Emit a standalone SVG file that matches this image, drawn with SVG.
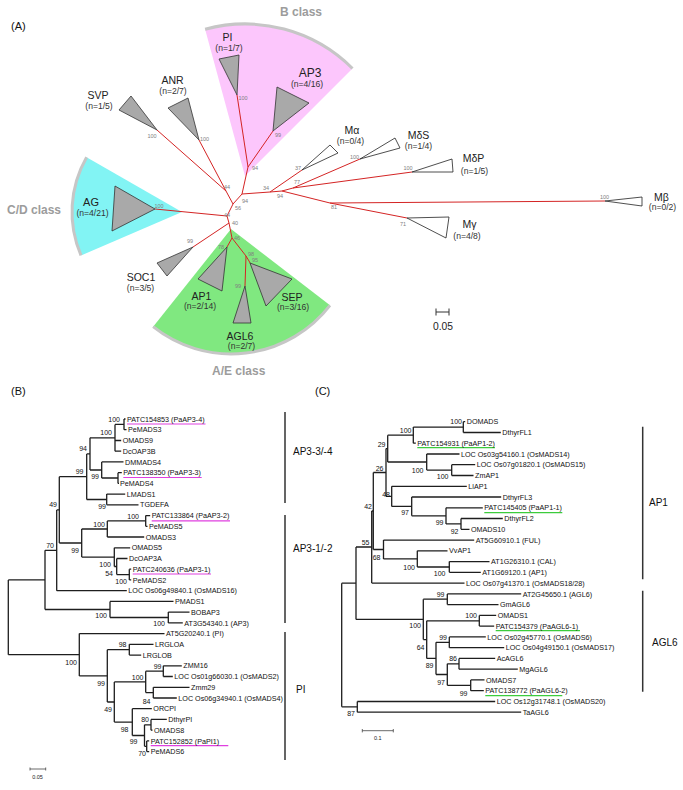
<svg xmlns="http://www.w3.org/2000/svg" width="683" height="790" viewBox="0 0 683 790">
<style>
text{font-family:"Liberation Sans",Arial,sans-serif}
.r{stroke:#d42424;stroke-width:1;fill:none}
.tg{fill:#a9a9a9;stroke:#333;stroke-width:0.8}
.tw{fill:#fff;stroke:#222;stroke-width:0.8}
.ab{font-size:5.5px;fill:#808080;text-anchor:middle}
.nm{font-size:10.5px;fill:#222;text-anchor:middle}
.nn{font-size:8.6px;fill:#333;text-anchor:middle}
.cls{font-size:12px;font-weight:bold;fill:#9c9c9c}
.pl{font-size:11px;fill:#111}
.br{stroke:#1e1e1e;stroke-width:1.3;fill:none}
.t{font-size:7.2px;fill:#111}
.b{font-size:7px;fill:#111;text-anchor:end}
.cl{font-size:10px;fill:#111}
.bar{stroke:#333;stroke-width:1.5}
.um{stroke:#e040e0;stroke-width:1.2}
.ug{stroke:#3ccc3c;stroke-width:1.2}
.arc{fill:none;stroke:#c6c6c6;stroke-width:3}
</style>

<g id="panelA">
<text class="pl" x="11" y="30">(A)</text>
<g id="sectors">
<path d="M245,176 L205.1,29.3 A152,152 0 0,1 352.5,68.5 Z" fill="#fcc6fc"/>
<path class="arc" d="M205.1,29.3 A152,152 0 0,1 352.5,68.5"/>
<path d="M182,212 L86.6,157.2 A110,110 0 0,0 81,255.4 Z" fill="#82f4f4"/>
<path class="arc" d="M86.6,157.2 A110,110 0 0,0 81,255.4"/>
<path d="M231,229 L153.1,326.7 A125,125 0 0,0 330,305.3 Z" fill="#80e880"/>
<path class="arc" d="M153.1,326.7 A125,125 0 0,0 330,305.3"/>
</g>
<text class="cls" x="280" y="15.5">B class</text>
<text class="cls" x="7" y="214">C/D class</text>
<text class="cls" x="212" y="374.5">A/E class</text>

<g id="connectorsA">
<path class="r" d="M157,130 L226,191 M199,140 L226,191 L233,204 L242,194 L248,167 L237,95 M248,167 L273,131 M242,194 L270,192 L302,170 M270,192 L282,191 L293,188 L360,159 M293,188 L412,172 M282,191 L330,203 L605,201 M330,203 L407,218 M233,204 L227,216 L155,209 M227,216 L229,223 L193,247 M229,223 L232,238 L227,247 M232,238 L246,256 L245,286 M246,256 L249,261 L250,263"/>
</g>

<g id="SVP"><path class="tg" d="M157,130 L119,110 L131,96 Z"/><text class="nm" x="98" y="99">SVP</text><text class="nn" x="99" y="109.2">(n=1/5)</text></g>
<g id="ANR"><path class="tg" d="M199,140 L168,108 L188,98 Z"/><text class="nm" x="172.5" y="83.8">ANR</text><text class="nn" x="173" y="94.2">(n=2/7)</text></g>
<g id="PI"><path class="tg" d="M237,95 L219,59 L239,55 Z"/><text class="nm" x="227.5" y="40.8">PI</text><text class="nn" x="229" y="51.2">(n=1/7)</text></g>
<g id="AP3"><path class="tg" d="M273,131 L277,87 L309,103 Z"/><text class="nm" x="310" y="77.3" style="font-size:12px">AP3</text><text class="nn" x="307" y="87.2">(n=4/16)</text></g>
<g id="Ma"><path class="tw" d="M302,170 L330,145 L338,153 Z"/><text class="nm" x="352" y="133.7">Mα</text><text class="nn" x="350.5" y="144.2">(n=0/4)</text></g>
<g id="MdS"><path class="tw" d="M360,159 L395,138 L400,148 Z"/><text class="nm" x="418.5" y="138.7">MδS</text><text class="nn" x="418.5" y="149.2">(n=1/4)</text></g>
<g id="MdP"><path class="tw" d="M412,172 L452,159 L453,172 Z"/><text class="nm" x="473.5" y="161.7">MδP</text><text class="nn" x="474.5" y="174.2">(n=1/5)</text></g>
<g id="Mb"><path class="tw" d="M605,201 L642,197 L642,206 Z"/><text class="nm" x="661.5" y="200.7">Mβ</text><text class="nn" x="662.5" y="210.2">(n=0/2)</text></g>
<g id="Mg"><path class="tw" d="M407,218 L449,217 L446,238 Z"/><text class="nm" x="469.5" y="227.7">Mγ</text><text class="nn" x="467" y="239.2">(n=4/8)</text></g>
<g id="AG"><path class="tg" d="M155,209 L115,186 L112,231 Z"/><text class="nm" x="91" y="205.9" style="font-size:11px">AG</text><text class="nn" x="92.5" y="216.2">(n=4/21)</text></g>
<g id="SOC1"><path class="tg" d="M193,247 L157,263 L167,276 Z"/><text class="nm" x="141" y="280.7">SOC1</text><text class="nn" x="140.5" y="291.2">(n=3/5)</text></g>
<g id="AP1"><path class="tg" d="M227,247 L198,279 L222,291 Z"/><text class="nm" x="201.5" y="299.7">AP1</text><text class="nn" x="200" y="309.2">(n=2/14)</text></g>
<g id="AGL6"><path class="tg" d="M245,286 L233,323 L251,323 Z"/><text class="nm" x="240" y="339.7">AGL6</text><text class="nn" x="241.5" y="349.2">(n=2/7)</text></g>
<g id="SEP"><path class="tg" d="M250,263 L292,279 L266,306 Z"/><text class="nm" x="292" y="300.7">SEP</text><text class="nn" x="293" y="310.2">(n=3/16)</text></g>

<g id="bootA">
<text class="ab" x="152" y="138">100</text>
<text class="ab" x="204.5" y="141">100</text>
<text class="ab" x="243" y="99.5">100</text>
<text class="ab" x="278" y="137">99</text>
<text class="ab" x="255" y="170">94</text>
<text class="ab" x="227" y="189">44</text>
<text class="ab" x="245" y="203">94</text>
<text class="ab" x="238" y="210">56</text>
<text class="ab" x="266" y="190">34</text>
<text class="ab" x="298" y="170">37</text>
<text class="ab" x="297" y="184">77</text>
<text class="ab" x="280" y="198">94</text>
<text class="ab" x="354.5" y="158.5">100</text>
<text class="ab" x="408" y="170">100</text>
<text class="ab" x="604.5" y="199">100</text>
<text class="ab" x="334" y="208.5">81</text>
<text class="ab" x="403" y="226">71</text>
<text class="ab" x="159" y="207.5">100</text>
<text class="ab" x="227" y="217">44</text>
<text class="ab" x="235" y="225">40</text>
<text class="ab" x="190" y="242.5">99</text>
<text class="ab" x="237" y="239.5">46</text>
<text class="ab" x="221" y="248.5">78</text>
<text class="ab" x="251" y="256">98</text>
<text class="ab" x="255" y="262">95</text>
<text class="ab" x="238" y="287.5">99</text>
</g>
<g id="scaleA">
<path stroke="#333" stroke-width="1" d="M436,312 H449 M436,308.5 V315.5 M449,308.5 V315.5"/>
<text x="443" y="330" style="font-size:10.3px;text-anchor:middle;fill:#222">0.05</text>
</g>
</g>

<g id="panelB">
<text class="pl" x="11" y="395">(B)</text>
<g id="connectorsB">
<path class="br" d="M124,419 V429.7 M115,424.4 V451.2 M118,472.7 V483.4 M101.7,461.9 V478 M90,437.8 V470 M106.7,494.1 V504.8 M86.7,453.9 V499.5 M145.7,515.6 V526.3 M107.3,520.9 V537 M129.3,569.2 V579.9 M116.7,558.5 V574.6 M114.3,547.8 V566.5 M81.7,529 V557.1 M59.3,476.7 V543 M56.7,509.9 V590.7 M168.3,612.1 V622.9 M110,601.4 V617.5 M45,550.3 V609.5 M129.3,644.3 V655.1 M163.3,665.8 V676.5 M153.3,687.3 V698 M145.7,671.2 V692.6 M151,719.4 V730.2 M146.7,740.9 V751.6 M144.5,724.8 V746.3 M132.3,708.7 V735.5 M114.3,681.9 V722.1 M107.3,649.7 V702 M79.3,633.6 V675.9 M8.3,579.9 V654.7"/>
<path class="br" d="M115,424.4 H124 M90,437.8 H115 M101.7,478 H118 M90,470 H101.7 M86.7,453.9 H90 M86.7,499.5 H106.7 M59.3,476.7 H86.7 M107.3,520.9 H145.7 M81.7,529 H107.3 M116.7,574.6 H129.3 M114.3,566.5 H116.7 M81.7,557.1 H114.3 M59.3,543 H81.7 M56.7,509.9 H59.3 M45,550.3 H56.7 M110,617.5 H168.3 M45,609.5 H110 M8.3,579.9 H45 M107.3,649.7 H129.3 M145.7,671.2 H163.3 M145.7,692.6 H153.3 M114.3,681.9 H145.7 M144.5,724.8 H151 M144.5,746.3 H146.7 M132.3,735.5 H144.5 M114.3,722.1 H132.3 M107.3,702 H114.3 M79.3,675.9 H107.3 M8.3,654.7 H79.3"/>
<path class="br" d="M124,419 H125.5 M124,429.7 H126.5 M115,440.5 H121.2 M115,451.2 H121.2 M101.7,461.9 H123.5 M118,472.7 H121.8 M118,483.4 H119 M106.7,494.1 H125.2 M106.7,504.8 H138.5 M145.7,515.6 H150.2 M145.7,526.3 H147.5 M107.3,537 H144.2 M114.3,547.8 H130.2 M116.7,558.5 H127.5 M129.3,569.2 H131.2 M129.3,579.9 H131.2 M56.7,590.7 H126.8 M110,601.4 H173.5 M168.3,612.1 H189.5 M168.3,622.9 H182.8 M79.3,633.6 H164.5 M129.3,644.3 H153.5 M129.3,655.1 H141.2 M163.3,665.8 H181.8 M163.3,676.5 H172.8 M153.3,687.3 H189.5 M153.3,698 H176.8 M132.3,708.7 H151.8 M151,719.4 H166.8 M151,730.2 H152.5 M146.7,740.9 H149.2 M146.7,751.6 H149.2"/>
<path class="um" d="M127,424 H205.5 M123.3,477.5 H201.7 M151.7,520.8 H230 M132.7,574 H211 M150.7,745.7 H228.3"/>
</g>
<g id="leavesB">
<text class="t" x="127" y="421.6">PATC154853 (PaAP3-4)</text>
<text class="t" x="128" y="432.3">PeMADS3</text>
<text class="t" x="122.7" y="443.1">OMADS9</text>
<text class="t" x="122.7" y="453.8">DcOAP3B</text>
<text class="t" x="125" y="464.5">DMMADS4</text>
<text class="t" x="123.3" y="475.3">PATC138350 (PaAP3-3)</text>
<text class="t" x="120" y="486">PeMADS4</text>
<text class="t" x="126.7" y="496.7">LMADS1</text>
<text class="t" x="140" y="507.4">TGDEFA</text>
<text class="t" x="151.7" y="518.2">PATC133864 (PaAP3-2)</text>
<text class="t" x="149" y="528.9">PeMADS5</text>
<text class="t" x="145.7" y="539.6">OMADS3</text>
<text class="t" x="131.7" y="550.4">OMADS5</text>
<text class="t" x="129" y="561.1">DcOAP3A</text>
<text class="t" x="132.7" y="571.8">PATC240636 (PaAP3-1)</text>
<text class="t" x="132.7" y="582.5">PeMADS2</text>
<text class="t" x="128.3" y="593.3">LOC Os06g49840.1 (OsMADS16)</text>
<text class="t" x="175" y="604">PMADS1</text>
<text class="t" x="191" y="614.7">BOBAP3</text>
<text class="t" x="184.3" y="625.5">AT3G54340.1 (AP3)</text>
<text class="t" x="166" y="636.2">AT5G20240.1 (PI)</text>
<text class="t" x="155" y="646.9">LRGLOA</text>
<text class="t" x="142.7" y="657.7">LRGLOB</text>
<text class="t" x="183.3" y="668.4">ZMM16</text>
<text class="t" x="174.3" y="679.1">LOC Os01g66030.1 (OsMADS2)</text>
<text class="t" x="191" y="689.9">Zmm29</text>
<text class="t" x="178.3" y="700.6">LOC Os06g34940.1 (OsMADS4)</text>
<text class="t" x="153.3" y="711.3">ORCPI</text>
<text class="t" x="168.3" y="722">DthyrPI</text>
<text class="t" x="154" y="732.8">OMADS8</text>
<text class="t" x="150.7" y="743.5">PATC152852 (PaPI1)</text>
<text class="t" x="150.7" y="754.2">PeMADS6</text>
</g>
<g id="bootB">
<text class="b" x="120" y="421.5">100</text>
<text class="b" x="112" y="434.5">100</text>
<text class="b" x="87" y="450.5">94</text>
<text class="b" x="99" y="478.5">99</text>
<text class="b" x="83.5" y="473.5">99</text>
<text class="b" x="106" y="508.5">99</text>
<text class="b" x="57" y="506.5">49</text>
<text class="b" x="139" y="518.5">100</text>
<text class="b" x="105" y="526.5">100</text>
<text class="b" x="54" y="547.5">70</text>
<text class="b" x="79" y="552.5">99</text>
<text class="b" x="111" y="566.5">100</text>
<text class="b" x="113" y="575.5">54</text>
<text class="b" x="127" y="583.5">100</text>
<text class="b" x="107" y="617.5">100</text>
<text class="b" x="165" y="625.5">100</text>
<text class="b" x="126.5" y="646.5">98</text>
<text class="b" x="77" y="664.5">100</text>
<text class="b" x="161.5" y="668.5">99</text>
<text class="b" x="143.5" y="679.5">100</text>
<text class="b" x="105" y="685.5">99</text>
<text class="b" x="150.5" y="703.5">84</text>
<text class="b" x="112" y="711.5">49</text>
<text class="b" x="149" y="721.5">80</text>
<text class="b" x="128.5" y="731.5">98</text>
<text class="b" x="137.5" y="743.5">99</text>
<text class="b" x="146" y="755.5">70</text>
</g>
<g id="cladesB">
<path class="bar" d="M285,412 V503 M285,515 V623 M285,632 V760"/>
<text class="cl" x="293" y="454.6">AP3-3/-4</text>
<text class="cl" x="293" y="551.6">AP3-1/-2</text>
<text class="cl" x="296" y="692.6">PI</text>
</g>
<g id="scaleB">
<path stroke="#444" stroke-width="0.8" d="M30,769 H45.7 M30,767.5 V770.5 M45.7,767.5 V770.5"/>
<text x="37.5" y="779" style="font-size:5.5px;text-anchor:middle;fill:#222">0.05</text>
</g>
</g>

<g id="panelC">
<text class="pl" x="315" y="395">(C)</text>
<g id="connectorsC">
<path class="br" d="M463.3,421.7 V432.5 M413.3,427.1 V443.2 M451.7,464.7 V475.5 M426.7,454 V470.1 M387.7,435.2 V462 M461,518.5 V529.3 M446,507.8 V523.9 M411.7,497 V515.8 M391.7,486.3 V506.4 M386,448.6 V496.3 M449.3,561.6 V572.3 M417.3,550.8 V567 M383.5,540.1 V558.9 M373.3,472.5 V549.5 M371.7,511 V583.1 M447.3,593.9 V604.6 M479.3,615.4 V626.1 M449.3,636.9 V647.7 M459,658.4 V669.2 M470.7,679.9 V690.7 M447.3,663.8 V685.3 M436,642.3 V674.5 M426.7,620.8 V658.4 M423.3,599.2 V639.6 M356,547 V619.4 M357.3,701.5 V712.2 M341.7,583.2 V706.8"/>
<path class="br" d="M413.3,427.1 H463.3 M387.7,435.2 H413.3 M426.7,470.1 H451.7 M387.7,462 H426.7 M386,448.6 H387.7 M446,523.9 H461 M411.7,515.8 H446 M391.7,506.4 H411.7 M386,496.3 H391.7 M373.3,472.5 H386 M417.3,567 H449.3 M383.5,558.9 H417.3 M373.3,549.5 H383.5 M371.7,511 H373.3 M356,547 H371.7 M423.3,599.2 H447.3 M426.7,620.8 H479.3 M436,642.3 H449.3 M447.3,663.8 H459 M447.3,685.3 H470.7 M436,674.5 H447.3 M426.7,658.4 H436 M423.3,639.6 H426.7 M356,619.4 H423.3 M341.7,583.2 H356 M341.7,706.8 H357.3"/>
<path class="br" d="M463.3,421.7 H465.2 M463.3,432.5 H500.8 M413.3,443.2 H415.8 M426.7,454 H459.5 M451.7,464.7 H475.2 M451.7,475.5 H473.5 M391.7,486.3 H466.8 M411.7,497 H501.2 M446,507.8 H482.8 M461,518.5 H502.8 M461,529.3 H469.5 M383.5,540.1 H474.2 M417.3,550.8 H447.5 M449.3,561.6 H489.5 M449.3,572.3 H480.8 M371.7,583.1 H464.5 M447.3,593.9 H521.2 M447.3,604.6 H498.5 M479.3,615.4 H496.2 M479.3,626.1 H494.2 M449.3,636.9 H485.8 M449.3,647.7 H504.2 M459,658.4 H495.2 M459,669.2 H517.8 M470.7,679.9 H484.5 M470.7,690.7 H483.8 M357.3,701.5 H495.2 M357.3,712.2 H521.2"/>
<path class="ug" d="M417.3,447.7 H495 M484.3,512.7 H562.3 M495.7,630.7 H580 M485.3,695.7 H562.3"/>
</g>
<g id="leavesC">
<text class="t" x="466.7" y="424.3">DOMADS</text>
<text class="t" x="502.3" y="435.1">DthyrFL1</text>
<text class="t" x="417.3" y="445.8">PATC154931 (PaAP1-2)</text>
<text class="t" x="461" y="456.6">LOC Os03g54160.1 (OsMADS14)</text>
<text class="t" x="476.7" y="467.3">LOC Os07g01820.1 (OsMADS15)</text>
<text class="t" x="475" y="478.1">ZmAP1</text>
<text class="t" x="468.3" y="488.9">LlAP1</text>
<text class="t" x="502.7" y="499.6">DthyrFL3</text>
<text class="t" x="484.3" y="510.4">PATC145405 (PaAP1-1)</text>
<text class="t" x="504.3" y="521.1">DthyrFL2</text>
<text class="t" x="471" y="531.9">OMADS10</text>
<text class="t" x="475.7" y="542.7">AT5G60910.1 (FUL)</text>
<text class="t" x="449" y="553.4">VvAP1</text>
<text class="t" x="491" y="564.2">AT1G26310.1 (CAL)</text>
<text class="t" x="482.3" y="574.9">AT1G69120.1 (AP1)</text>
<text class="t" x="466" y="585.7">LOC Os07g41370.1 (OsMADS18/28)</text>
<text class="t" x="522.7" y="596.5">AT2G45650.1 (AGL6)</text>
<text class="t" x="500" y="607.2">GmAGL6</text>
<text class="t" x="497.7" y="618">OMADS1</text>
<text class="t" x="495.7" y="628.7">PATC154379 (PaAGL6-1)</text>
<text class="t" x="487.3" y="639.5">LOC Os02g45770.1 (OsMADS6)</text>
<text class="t" x="505.7" y="650.3">LOC Os04g49150.1 (OsMADS17)</text>
<text class="t" x="496.7" y="661">AcAGL6</text>
<text class="t" x="519.3" y="671.8">MgAGL6</text>
<text class="t" x="486" y="682.5">OMADS7</text>
<text class="t" x="485.3" y="693.3">PATC138772 (PaAGL6-2)</text>
<text class="t" x="496.7" y="704.1">LOC Os12g31748.1 (OsMADS20)</text>
<text class="t" x="522.7" y="714.8">TaAGL6</text>
</g>
<g id="bootC">
<text class="b" x="462" y="423.5">100</text>
<text class="b" x="411.5" y="433">100</text>
<text class="b" x="385.5" y="446.5">29</text>
<text class="b" x="423.5" y="472.5">100</text>
<text class="b" x="448.5" y="479">100</text>
<text class="b" x="383.5" y="470.5">26</text>
<text class="b" x="390" y="496.5">48</text>
<text class="b" x="372" y="508.5">42</text>
<text class="b" x="409" y="514.5">97</text>
<text class="b" x="443.5" y="525">99</text>
<text class="b" x="458.5" y="533.5">92</text>
<text class="b" x="369.5" y="544.5">55</text>
<text class="b" x="380.5" y="559.5">68</text>
<text class="b" x="415" y="569.5">100</text>
<text class="b" x="445.5" y="575.5">100</text>
<text class="b" x="444.5" y="596.5">99</text>
<text class="b" x="477" y="617.5">100</text>
<text class="b" x="421" y="627.5">100</text>
<text class="b" x="447" y="639.5">99</text>
<text class="b" x="424.5" y="649.5">64</text>
<text class="b" x="457" y="660.5">86</text>
<text class="b" x="433.5" y="667.5">89</text>
<text class="b" x="445" y="684.5">97</text>
<text class="b" x="467.5" y="695.5">99</text>
<text class="b" x="355" y="715.5">87</text>
</g>
<g id="cladesC">
<path class="bar" d="M642.7,426.7 V579.3 M642.7,590.7 V691.7"/>
<text class="cl" x="649" y="506.3">AP1</text>
<text class="cl" x="652" y="645.6">AGL6</text>
</g>
<g id="scaleC">
<path stroke="#444" stroke-width="0.8" d="M362.3,730.7 H393.3 M362.3,729 V732.4 M393.3,729 V732.4"/>
<text x="377.8" y="740" style="font-size:5.5px;text-anchor:middle;fill:#222">0.1</text>
</g>
</g>
</svg>
